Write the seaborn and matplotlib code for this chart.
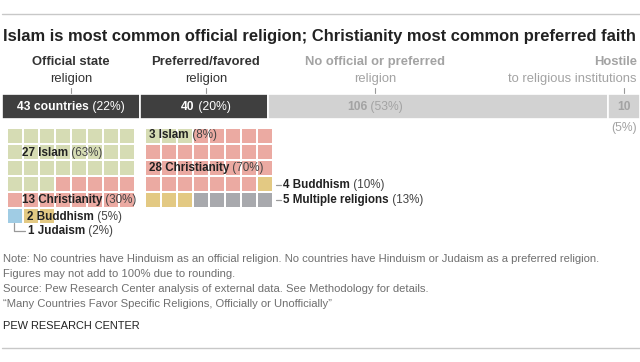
import numpy as np
import pandas as pd
import matplotlib
matplotlib.use("Agg")
import matplotlib.pyplot as plt
import seaborn as sns

sns.set_style("white")
plt.rcParams['font.family'] = ['Liberation Sans', 'DejaVu Sans']

# datos
grupos = ["Official state", "Preferred/favored", "No official or preferred", "Hostile"]
subtitulos = ["religion", "religion", "religion", "to religious institutions"]
paises = [43, 40, 106, 10]
pct = [22, 20, 53, 5]

oficial_rel = ["Islam", "Christianity", "Judaism", "Buddhism"]
oficial_n = [27, 13, 1, 2]
oficial_pct = [63, 30, 2, 5]

preferida_rel = ["Islam", "Christianity", "Buddhism", "Multiple religions"]
preferida_n = [3, 28, 4, 5]
preferida_pct = [8, 70, 10, 13]

colores = {"Islam": "#d6dcb4", "Christianity": "#ebaaa2", "Buddhism": "#e3c983",
           "Judaism": "#a0cce4", "Multiple religions": "#a8a9ad"}
gris_osc = "#3f3f3f"
gris_cl = "#d2d2d2"
gris_txt = "#a3a3a3"

fig = plt.figure(figsize=(6.4, 3.62), dpi=100)
ax = fig.add_axes([0, 0, 1, 1])
ax.set_xlim(0, 640)
ax.set_ylim(362, 0)
ax.axis("off")
rend = fig.canvas.get_renderer()


def rich(x, y, partes, ha="left", size=9.5):
    # partes: (texto, peso, color)
    objs = []
    ancho = 0
    for txt, peso, col in partes:
        t = ax.text(0, y, txt, fontsize=size, fontweight=peso, color=col, va="center", ha="left")
        w = t.get_window_extent(rend).width
        objs.append((t, w))
        ancho += w
    if ha == "center":
        x0 = x - ancho / 2
    elif ha == "right":
        x0 = x - ancho
    else:
        x0 = x
    for t, w in objs:
        t.set_x(x0)
        x0 += w


# lineas
ax.plot([2, 640], [14, 14], color="#c8c8c8", lw=1)
ax.plot([2, 640], [348, 348], color="#c8c8c8", lw=1)

titulo = ax.text(3, 36, "Islam is most common official religion; Christianity most common preferred faith",
                 fontsize=13, fontweight="bold", color="#222222", va="center")
w = titulo.get_window_extent(rend).width
titulo.set_fontsize(13 * 632 / w)

# barra apilada
total = sum(paises)
ancho_barra = 638
izq = 2 + np.concatenate([[0], np.cumsum(paises)[:-1]]) / total * ancho_barra
anchos = np.array(paises) / total * ancho_barra
col_barra = [gris_osc, gris_osc, gris_cl, gris_cl]
ax.barh([106.5] * 4, anchos, left=izq, height=25, color=col_barra, edgecolor="white", linewidth=1.2, align="center")

centros = [71, 206, 375, 624]
for i in range(4):
    c = "white" if i < 2 else gris_txt
    hc = "#333333" if i < 2 else gris_txt
    if i < 3:
        rich(centros[i], 62, [(grupos[i], "bold", hc)], ha="center", size=9.4)
        rich(centros[i], 79, [(subtitulos[i], "normal", hc)], ha="center", size=9.4)
    else:
        rich(637, 62, [(grupos[i], "bold", hc)], ha="right", size=9.4)
        rich(637, 79, [(subtitulos[i], "normal", hc)], ha="right", size=9.4)
    ax.plot([centros[i], centros[i]], [88, 93], color="#999999", lw=0.8)
    if i == 0:
        rich(centros[i], 107, [("%d countries" % paises[i], "bold", c), (" (%d%%)" % pct[i], "normal", c)], ha="center", size=8.7)
    elif i < 3:
        rich(centros[i], 107, [("%d" % paises[i], "bold", c), (" (%d%%)" % pct[i], "normal", c)], ha="center", size=8.7)
    else:
        rich(centros[i], 107, [("%d" % paises[i], "bold", c)], ha="center", size=8.7)
        rich(centros[i], 128, [("(%d%%)" % pct[i], "normal", c)], ha="center", size=8.7)


# waffles
def waffle(rel, n, x0, y0):
    filas = []
    k = 0
    for r, m in zip(rel, n):
        for _ in range(m):
            filas.append({"x": x0 + (k % 8) * 16 + 7, "y": y0 + (k // 8) * 16 + 7, "rel": r})
            k += 1
    return pd.DataFrame(filas)


celdas = pd.concat([waffle(oficial_rel, oficial_n, 8, 129), waffle(preferida_rel, preferida_n, 146, 129)])
sns.scatterplot(data=celdas, x="x", y="y", hue="rel", palette=colores, marker="s",
                s=(14 * 0.72) ** 2, linewidth=0, legend=False, ax=ax, zorder=2)

tc = "#222222"
tr = "#444444"
fs = 8.4
rich(22, 153, [("%d Islam" % oficial_n[0], "bold", tc), (" (%d%%)" % oficial_pct[0], "normal", tr)], size=fs)
rich(22, 200, [("%d Christianity" % oficial_n[1], "bold", tc), (" (%d%%)" % oficial_pct[1], "normal", tr)], size=fs)
rich(27, 217, [("%d Buddhism" % oficial_n[3], "bold", tc), (" (%d%%)" % oficial_pct[3], "normal", tr)], size=fs)
rich(28, 231, [("%d Judaism" % oficial_n[2], "bold", tc), (" (%d%%)" % oficial_pct[2], "normal", tr)], size=fs)
ax.plot([14, 14, 25], [223, 231, 231], color="#999999", lw=0.9)

rich(149, 135, [("%d Islam" % preferida_n[0], "bold", tc), (" (%d%%)" % preferida_pct[0], "normal", tr)], size=fs)
rich(149, 168, [("%d Christianity" % preferida_n[1], "bold", tc), (" (%d%%)" % preferida_pct[1], "normal", tr)], size=fs)
rich(283, 185, [("%d Buddhism" % preferida_n[2], "bold", tc), (" (%d%%)" % preferida_pct[2], "normal", tr)], size=fs)
rich(283, 200, [("%d Multiple religions" % preferida_n[3], "bold", tc), (" (%d%%)" % preferida_pct[3], "normal", tr)], size=fs)
ax.plot([276, 281], [185, 185], color="#999999", lw=0.9)
ax.plot([276, 281], [200, 200], color="#999999", lw=0.9)

# notas
notas = ["Note: No countries have Hinduism as an official religion. No countries have Hinduism or Judaism as a preferred religion.",
         "Figures may not add to 100% due to rounding.",
         "Source: Pew Research Center analysis of external data. See Methodology for details.",
         "\u201cMany Countries Favor Specific Religions, Officially or Unofficially\u201d"]
for j, nt in enumerate(notas):
    ax.text(3, 259 + j * 15, nt, fontsize=8.1, color="#6f6f6f", va="center")
ax.text(3, 326, "PEW RESEARCH CENTER", fontsize=7.9, color="#222222", va="center")

fig.savefig("out.png", dpi=100)
